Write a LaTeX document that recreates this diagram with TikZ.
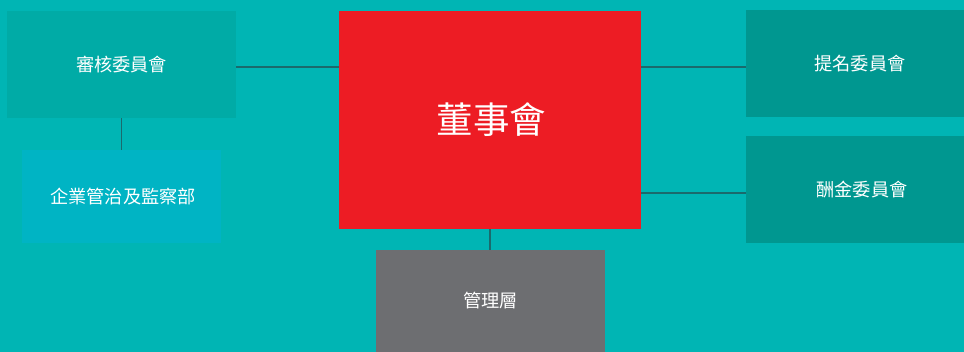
\documentclass[tikz,border=0pt]{standalone}
\usepackage{fontspec}
\setmainfont{Noto Sans CJK TC}
\definecolor{bgteal}{HTML}{00B5B4}
\definecolor{auditc}{HTML}{00ABA6}
\definecolor{govc}{HTML}{00B4C4}
\definecolor{boardred}{HTML}{ED1C24}
\definecolor{commc}{HTML}{009790}
\definecolor{mgmtgray}{HTML}{6D6E71}
\definecolor{linec}{HTML}{1B6A6C}
\tikzset{
  box/.style={rectangle, inner sep=0pt, text=white, font=\fontsize{18.2}{20}\selectfont},
  conn/.style={draw=linec, line width=1.6pt},
}
\begin{document}
\begin{tikzpicture}[x=1pt,y=-1pt]
\fill[bgteal] (0,0) rectangle (964,352);
\useasboundingbox (0,0) rectangle (964,352);
\node[box, fill=auditc, minimum width=229pt, minimum height=107pt] (audit) at (121.5,64.5) {審核委員會};
\node[box, fill=govc, minimum width=199pt, minimum height=93pt] (gov) at (121.5,196.5) {\hspace{3pt}企業管治及監察部};
\node[box, fill=boardred, minimum width=302pt, minimum height=218pt, font=\fontsize{36.5}{40}\selectfont] (board) at (490,120) {\hspace{3pt}董事會};
\node[box, fill=commc, minimum width=218pt, minimum height=107pt] (nom) at (855,63.5) {\hspace{10pt}提名委員會};
\node[box, fill=commc, minimum width=218pt, minimum height=107pt] (rem) at (855,189.5) {\hspace{14pt}酬金委員會};
\node[box, fill=mgmtgray, minimum width=229pt, minimum height=102pt] (mgmt) at (490.5,301) {管理層};
\draw[conn] ([yshift=-2.5pt]audit.east) -- ([yshift=-2.5pt]audit.east -| board.west);
\draw[conn] ([yshift=-3.5pt]nom.west) -- ([yshift=-3.5pt]nom.west -| board.east);
\draw[conn] ([yshift=-3.5pt]rem.west) -- ([yshift=-3.5pt]rem.west -| board.east);
\draw[conn] (audit.south) -- (audit.south |- gov.north);
\draw[conn] (board.south) -- (board.south |- mgmt.north);
\end{tikzpicture}
\end{document}
